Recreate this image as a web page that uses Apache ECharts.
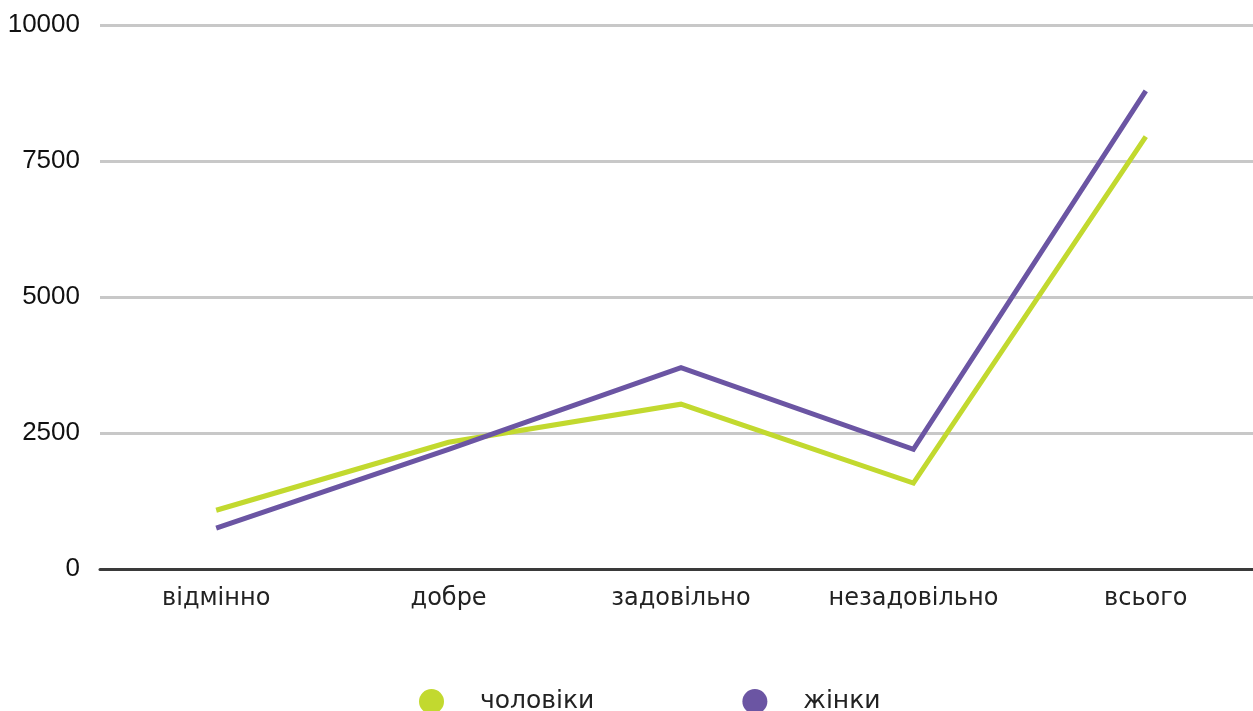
<!DOCTYPE html>
<html><head><meta charset="utf-8">
<script src="https://cdn.jsdelivr.net/npm/echarts@6/dist/echarts.min.js"></script>
<style>html,body{margin:0;padding:0;background:#fff}#c{width:1253px;height:711px}</style>
</head><body><div id="c"></div>
<script>
const categories = ['відмінно','добре','задовільно','незадовільно','всього'];
const men = [1080, 2330, 3030, 1580, 7950];
const women = [750, 2200, 3700, 2200, 8790];
const seriesNames = ['чоловіки','жінки'];
const yTicks = [0, 2500, 5000, 7500, 10000];
const chart = echarts.init(document.getElementById('c'));
chart.setOption({
  animation:false,
  grid:{left:100, right:-9, top:25, bottom:142, outerBoundsMode:'none', containLabel:false},
  legend:{
    bottom:-8, left:414, icon:'circle', itemWidth:25, itemHeight:25, itemGap:148,
    textStyle:{fontFamily:'DejaVu Sans', fontSize:25, color:'#222', padding:[0,0,0,31]},
    data:seriesNames
  },
  xAxis:{type:'category', data:categories, boundaryGap:true,
    axisLine:{lineStyle:{color:'#3a3a3a', width:3}},
    axisTick:{show:false},
    axisLabel:{fontFamily:'DejaVu Sans', fontSize:24, color:'#222', margin:18}
  },
  yAxis:{type:'value', min:yTicks[0], max:yTicks[yTicks.length-1], interval:2500,
    axisLine:{show:false}, axisTick:{show:false},
    axisLabel:{fontFamily:'Liberation Sans', fontSize:26, color:'#111', margin:20, formatter:v=>String(v)},
    splitLine:{lineStyle:{color:'#c8c8c8', width:3}}
  },
  series:[
    {name:seriesNames[0], type:'line', data:men, symbol:'none', color:'#c2d92f',
     lineStyle:{width:5, color:'#c2d92f', cap:'butt', join:'miter'}},
    {name:seriesNames[1], type:'line', data:women, symbol:'none', color:'#6b55a3',
     lineStyle:{width:5, color:'#6b55a3', cap:'butt', join:'miter'}}
  ]
});
</script></body></html>
